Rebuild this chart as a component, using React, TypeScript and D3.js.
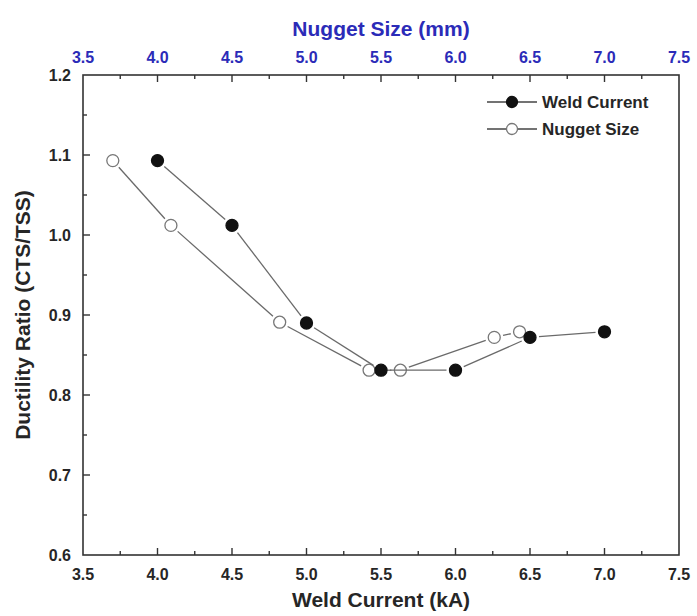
import React, { useEffect, useRef } from 'react';
import * as d3 from 'd3';

// filled circles: ratio vs weld current (bottom axis)
const weldCurrent = [4.0, 4.5, 5.0, 5.5, 6.0, 6.5, 7.0];
const weldRatio = [1.093, 1.012, 0.89, 0.831, 0.831, 0.872, 0.879];

// open circles: ratio vs nugget size (top axis)
const nuggetSize = [3.7, 4.09, 4.82, 5.42, 5.63, 6.26, 6.43];
const nuggetRatio = [1.093, 1.012, 0.891, 0.831, 0.831, 0.872, 0.879];

const xTicks = [3.5, 4.0, 4.5, 5.0, 5.5, 6.0, 6.5, 7.0, 7.5];
const yTicks = [0.6, 0.7, 0.8, 0.9, 1.0, 1.1, 1.2];

const W = 697;
const H = 616;
const left = 83, right = 679, top = 75, bottom = 555;
const R = 6;
const FONT = 'Liberation Sans, Arial, sans-serif';
const BLUE = '#2b2bb8';
const INK = '#262626';

export default function App() {
	const ref = useRef<SVGSVGElement | null>(null);

	useEffect(() => {
		const svg = d3.select(ref.current);
		svg.selectAll('*').remove();

		const x = d3.scaleLinear().domain([3.5, 7.5]).range([left, right]);
		const y = d3.scaleLinear().domain([0.6, 1.2]).range([bottom, top]);

		const minorX = d3.range(3.75, 7.5, 0.5);
		const minorY = d3.range(0.65, 1.2, 0.1);

		const g = svg.append('g');

		// frame
		g.append('rect')
			.attr('x', left).attr('y', top)
			.attr('width', right - left).attr('height', bottom - top)
			.attr('fill', 'none').attr('stroke', '#333').attr('stroke-width', 1.6);

		// ticks, inward
		const tick = (x1: number, y1: number, x2: number, y2: number) =>
			g.append('line').attr('x1', x1).attr('y1', y1).attr('x2', x2).attr('y2', y2)
				.attr('stroke', '#333').attr('stroke-width', 1.4);

		xTicks.slice(1, -1).forEach((v) => {
			tick(x(v), bottom, x(v), bottom - 7);
			tick(x(v), top, x(v), top + 7);
		});
		minorX.forEach((v) => {
			tick(x(v), bottom, x(v), bottom - 4);
			tick(x(v), top, x(v), top + 4);
		});
		yTicks.slice(1, -1).forEach((v) => tick(left, y(v), left + 7, y(v)));
		minorY.forEach((v) => tick(left, y(v), left + 4, y(v)));

		// tick labels
		g.selectAll('.xlab').data(xTicks).enter().append('text')
			.attr('x', (d) => x(d)).attr('y', 580)
			.attr('text-anchor', 'middle')
			.attr('font-family', FONT).attr('font-size', 16).attr('font-weight', 'bold')
			.attr('fill', INK)
			.text((d) => d.toFixed(1));

		g.selectAll('.tlab').data(xTicks).enter().append('text')
			.attr('x', (d) => x(d)).attr('y', 63)
			.attr('text-anchor', 'middle')
			.attr('font-family', FONT).attr('font-size', 16).attr('font-weight', 'bold')
			.attr('fill', BLUE)
			.text((d) => d.toFixed(1));

		g.selectAll('.ylab').data(yTicks).enter().append('text')
			.attr('x', 71).attr('y', (d) => y(d) + 6)
			.attr('text-anchor', 'end')
			.attr('font-family', FONT).attr('font-size', 16).attr('font-weight', 'bold')
			.attr('fill', INK)
			.text((d) => d.toFixed(1));

		// axis titles
		g.append('text')
			.attr('x', (left + right) / 2).attr('y', 607)
			.attr('text-anchor', 'middle')
			.attr('font-family', FONT).attr('font-size', 21).attr('font-weight', 'bold')
			.attr('fill', INK)
			.text('Weld Current (kA)');

		g.append('text')
			.attr('x', (left + right) / 2).attr('y', 36)
			.attr('text-anchor', 'middle')
			.attr('font-family', FONT).attr('font-size', 21).attr('font-weight', 'bold')
			.attr('fill', BLUE)
			.text('Nugget Size (mm)');

		g.append('text')
			.attr('transform', `translate(30, ${(top + bottom) / 2}) rotate(-90)`)
			.attr('text-anchor', 'middle')
			.attr('font-family', FONT).attr('font-size', 21).attr('font-weight', 'bold')
			.attr('fill', INK)
			.text('Ductility Ratio (CTS/TSS)');

		// series: segments with a gap around each marker
		const drawSeries = (xs: number[], ys: number[], filled: boolean) => {
			const pts = xs.map((v, i) => [x(v), y(ys[i])]);
			for (let i = 0; i < pts.length - 1; i++) {
				const [x1, y1] = pts[i];
				const [x2, y2] = pts[i + 1];
				const len = Math.hypot(x2 - x1, y2 - y1);
				const gap = R + 3;
				if (len <= gap * 2) continue;
				const ux = (x2 - x1) / len, uy = (y2 - y1) / len;
				g.append('line')
					.attr('x1', x1 + ux * gap).attr('y1', y1 + uy * gap)
					.attr('x2', x2 - ux * gap).attr('y2', y2 - uy * gap)
					.attr('stroke', '#6a6a6a').attr('stroke-width', 1.3);
			}
			g.selectAll(null).data(pts).enter().append('circle')
				.attr('cx', (d) => d[0]).attr('cy', (d) => d[1]).attr('r', R)
				.attr('fill', filled ? '#111' : '#fff')
				.attr('stroke', filled ? '#111' : '#777')
				.attr('stroke-width', 1.3);
		};

		drawSeries(nuggetSize, nuggetRatio, false);
		drawSeries(weldCurrent, weldRatio, true);

		// legend
		const legend = [
			{ label: 'Weld Current', filled: true, yy: 102 },
			{ label: 'Nugget Size', filled: false, yy: 129 },
		];
		legend.forEach((l) => {
			g.append('line').attr('x1', 487).attr('x2', 537).attr('y1', l.yy).attr('y2', l.yy)
				.attr('stroke', '#444').attr('stroke-width', 1.4);
			g.append('circle').attr('cx', 512).attr('cy', l.yy).attr('r', 5.5)
				.attr('fill', l.filled ? '#111' : '#fff')
				.attr('stroke', l.filled ? '#111' : '#777').attr('stroke-width', 1.3);
			g.append('text').attr('x', 542).attr('y', l.yy + 6)
				.attr('font-family', FONT).attr('font-size', 17).attr('font-weight', 'bold')
				.attr('fill', INK)
				.text(l.label);
		});
	}, []);

	return (
		<div style={{ position: 'fixed', left: 0, top: 0 }}>
			<svg ref={ref} width={W} height={H} style={{ display: 'block', background: '#fff' }} />
		</div>
	);
}
